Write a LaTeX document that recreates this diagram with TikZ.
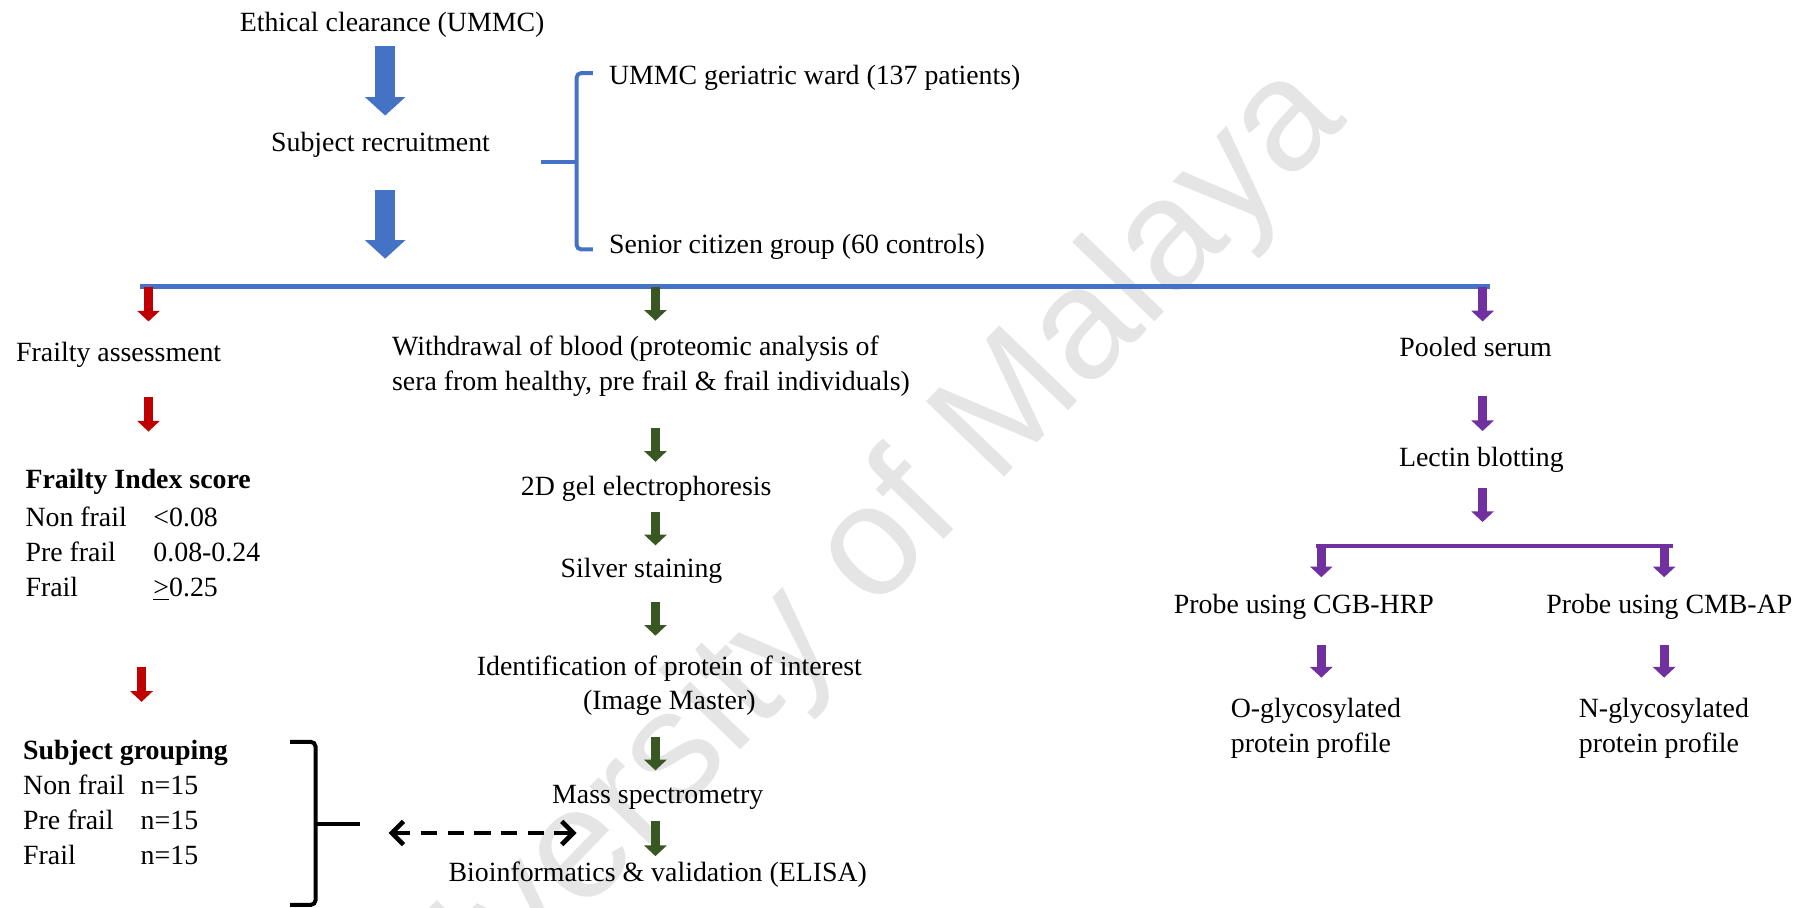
\documentclass[tikz,border=0pt]{standalone}
\usepackage{fontspec}
\setmainfont{Liberation Serif}
\setsansfont{Liberation Sans}
\usepackage{xcolor}
\usepackage{tikz}
\usetikzlibrary{arrows.meta, calc}

\definecolor{ublue}{HTML}{4472C4}
\definecolor{ured}{HTML}{C00000}
\definecolor{ugreen}{HTML}{385723}
\definecolor{upurple}{HTML}{7030A0}

\begin{document}
\begin{tikzpicture}[
    x=0.5pt, y=-0.5pt,
    every node/.style={font=\fontsize{12}{15}\selectfont, inner sep=0pt, outer sep=0pt},
    bigarrow/.style={line width=8.5pt, draw=ublue, -{Triangle[width=17pt,length=8pt]}},
    flowarrow/.style={line width=4pt, draw=#1, -{Triangle[width=9.5pt,length=4.6pt]}},
    flowarrow/.default=ugreen,
    busline/.style={draw=#1, line width=1.9pt},
    busline/.default=ublue,
    bracket/.style={draw=#1, line width=1.7pt, rounded corners=2pt},
    bracket/.default=black,
    linkarrow/.style={{Straight Barb[length=5pt,width=10pt]}-{Straight Barb[length=5pt,width=10pt]},
        line width=2pt, dash pattern=on 7pt off 4.5pt},
    watermark/.style={font=\sffamily\fontsize{68}{68}\selectfont, text=black!10, rotate=46},
]
\useasboundingbox (0,0) rectangle (1568,782);

% --- Watermark ---
\begin{scope}
    \clip (0,0) rectangle (1568,782);
    \node[watermark] (wmark) at (712,520) {University of Malaya};
\end{scope}

% --- Recruitment ---
\node (ethic) at (338,21) {Ethical clearance (UMMC)};
\node (recruit) at (328,125) {Subject recruitment};
\node[anchor=west] (ward) at (525,67) {UMMC geriatric ward (137 patients)};
\node[anchor=west] (senior) at (525,213) {Senior citizen group (60 controls)};

\draw[bracket=ublue] (511,63) -- (497,63) -- (497,215) -- (511,215);
\draw[bracket=ublue] (497,140) -- (466,140);

% --- Main bus ---
\coordinate (busL) at (121,247);
\coordinate (busR) at (1284,247);
\coordinate (bbus) at (332,247);
\coordinate (rbus) at (128,247);
\coordinate (gbus) at (565,247);
\coordinate (pbus) at (1278,247);
\draw[busline] (busL) -- (busR);

\draw[bigarrow, shorten <=4pt, shorten >=7.25pt] (ethic.south -| bbus) -- (recruit.north -| bbus);
\draw[bigarrow, shorten <=14pt, shorten >=12pt] (recruit.south -| bbus) -- (bbus);

% --- Frailty branch ---
\node[anchor=west] (frailty) at (14,306) {Frailty assessment};
\node[anchor=north west] (fiscore) at (22,400) {%
    \begin{tabular}{@{}l@{\hspace{11.5pt}}l@{}}
        \multicolumn{2}{@{}l}{\textbf{Frailty Index score}}\\[1.5pt]
        Non frail & <0.08\\
        Pre frail & 0.08-0.24\\
        Frail & \underline{>}0.25
    \end{tabular}};
\node[anchor=north west] (grouping) at (20,634) {%
    \begin{tabular}{@{}l@{\hspace{7pt}}l@{}}
        \multicolumn{2}{@{}l}{\textbf{Subject grouping}}\\
        Non frail & n=15\\
        Pre frail & n=15\\
        Frail & n=15
    \end{tabular}};

\draw[flowarrow=ured, shorten >=9pt] (rbus) -- (frailty.north -| rbus);
\draw[flowarrow=ured, shorten <=12.5pt, shorten >=14pt] (frailty.south -| rbus) -- (fiscore.north -| rbus);
\draw[flowarrow=ured, shorten <=26pt, shorten >=14.5pt]
    ($(fiscore.south -| rbus)+(-3pt,0)$) -- ($(grouping.north -| rbus)+(-3pt,0)$);

\draw[bracket] (250,639.5) -- (272,639.5) -- (272,780) -- (250,780);
\draw[bracket] (272,710) -- (310,710);

\coordinate (linkL) at (335,718);
\coordinate (linkR) at (497,718);
\draw[linkarrow] (linkL) -- (linkR);

% --- Proteomics branch ---
\node[anchor=west, align=left] (blood) at (338,315.5)
    {Withdrawal of blood (proteomic analysis of\\sera from healthy, pre frail \& frail individuals)};
\node (gel) at (557,421) {2D gel electrophoresis};
\node (silver) at (553,492) {Silver staining};
\node[align=center] (ident) at (577,591) {Identification of protein of interest\\(Image Master)};
\node (mass) at (567,687.5) {Mass spectrometry};
\node (bioinf) at (567,754) {Bioinformatics \& validation (ELISA)};

\draw[flowarrow, shorten >=6.5pt] (gbus) -- (blood.north -| gbus);
\draw[flowarrow, shorten <=13.5pt, shorten >=6pt] (blood.south -| gbus) -- (gel.north -| gbus);
\draw[flowarrow, shorten <=4.5pt, shorten >=5.5pt] (gel.south -| gbus) -- (silver.north -| gbus);
\draw[flowarrow, shorten <=8pt, shorten >=8.5pt] (silver.south -| gbus) -- (ident.north -| gbus);
\draw[flowarrow, shorten <=9pt, shorten >=6.5pt] (ident.south -| gbus) -- (mass.north -| gbus);
\draw[flowarrow, shorten <=5pt, shorten >=2.5pt] (mass.south -| gbus) -- (bioinf.north -| gbus);

% --- Glycosylation branch ---
\node (pooled) at (1272,299.5) {Pooled serum};
\node (lectin) at (1277,396.5) {Lectin blotting};
\node (cgb) at (1124,523.5) {Probe using CGB-HRP};
\node (cmb) at (1439,523.5) {Probe using CMB-AP};
\node[anchor=west, align=left] (oglyc) at (1061,628) {O-glycosylated\\protein profile};
\node[anchor=west, align=left] (nglyc) at (1361,628) {N-glycosylated\\protein profile};

\coordinate (pmid) at (1278,470.5);
\coordinate (pbl) at (1134,470.5);
\coordinate (pbr) at (1442,470.5);
\coordinate (pleft) at (1139,470.5);
\coordinate (pright) at (1434.5,470.5);
\draw[busline=upurple, line width=2pt] (pbl) -- (pbr);

\draw[flowarrow=upurple, shorten >=7pt] (pbus) -- (pooled.north -| pbus);
\draw[flowarrow=upurple, shorten <=16.5pt, shorten >=7pt] (pooled.south -| pbus) -- (lectin.north -| pbus);
\draw[flowarrow=upurple, shorten <=6.5pt, shorten >=10.25pt] (lectin.south -| pbus) -- (pmid);
\draw[flowarrow=upurple, shorten >=7.5pt] (pleft) -- (cgb.north -| pleft);
\draw[flowarrow=upurple, shorten >=7.5pt] (pright) -- (cmb.north -| pright);
\draw[flowarrow=upurple, shorten <=11pt, shorten >=9pt] (cgb.south -| pleft) -- (oglyc.north -| pleft);
\draw[flowarrow=upurple, shorten <=11pt, shorten >=9pt] (cmb.south -| pright) -- (nglyc.north -| pright);

\end{tikzpicture}
\end{document}
